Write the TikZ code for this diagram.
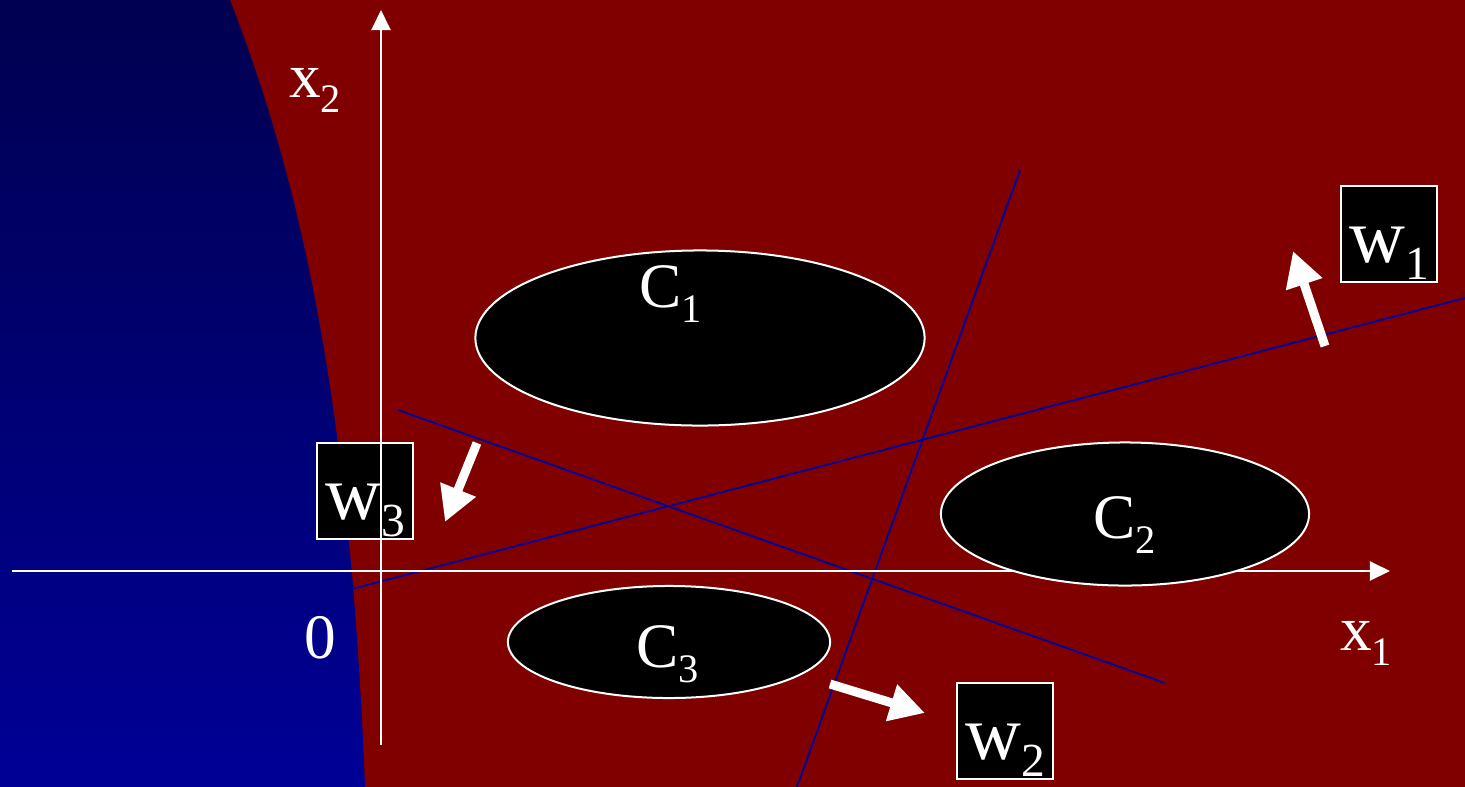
\documentclass[tikz,border=0pt]{standalone}
\usepackage{fontspec}
\setmainfont{Liberation Serif}
\usepackage{xcolor}
\usepackage{tikz}
\usetikzlibrary{arrows.meta, positioning, shapes.geometric}
\definecolor{bgred}{RGB}{128,0,0}
\definecolor{navytop}{RGB}{0,0,80}
\definecolor{navybot}{RGB}{0,0,150}
\definecolor{sepblue}{RGB}{0,0,160}
\newcommand{\lblsub}[2]{#1\raisebox{-4.5pt}{\fontsize{11.5}{12}\selectfont #2}}
\newcommand{\wsub}[1]{w\raisebox{-5pt}{\fontsize{13.5}{14}\selectfont #1}}

\begin{document}
\begin{tikzpicture}[x=0.01cm, y=-0.01cm,
  lbl/.style={text=white, inner sep=0pt, anchor=base, font=\fontsize{18}{20}\selectfont},
  cluster/.style={ellipse, draw=white, fill=black, line width=0.02cm, inner sep=0pt},
  wbox/.style={draw=white, fill=black, line width=0.018cm, minimum size=0.96cm, inner sep=0pt,
    text=white, text height=16pt, text depth=0pt, font=\fontsize{22}{24}\selectfont},
  axis/.style={white, line width=0.02cm, -{Triangle[length=0.2cm, width=0.19cm]}},
  sep/.style={sepblue, line width=0.018cm},
  wvec/.style={white, line width=0.09cm, -{Triangle[length=0.35cm, width=0.36cm]}}]
\useasboundingbox (0,0) rectangle (1465,787);
\fill[bgred] (0,0) rectangle (1465,787);

% decision lines
\coordinate (s1a) at (340,592);
\coordinate (s1b) at (1465,298);
\coordinate (s2a) at (1020,170);
\coordinate (s2b) at (797,787);
\coordinate (s3a) at (398,410);
\coordinate (s3b) at (1165,683);
\draw[sep] (s1a) -- (s1b);
\draw[sep] (s2a) -- (s2b);
\draw[sep] (s3a) -- (s3b);

% region on the left
\shade[top color=navytop, bottom color=navybot]
  (0,0) -- (230,0) .. controls (300,180) and (350,400) .. (365,787) -- (0,787) -- cycle;

\node[wbox] (wthree) at (365,491) {\wsub{3}};

% axes
\coordinate (xstart) at (12,571);
\coordinate (xend) at (1390,571);
\coordinate (ystart) at (381,745);
\coordinate (yend) at (381,10);
\draw[axis] (xstart) -- (xend);
\draw[axis] (ystart) -- (yend);
\node[lbl] (xtwo) at (315,97) {\lblsub{x}{2}};
\node[lbl] (xone) at (1366,650) {\lblsub{x}{1}};
\node[lbl] (orig) at (320,658) {0};

% classes
\node[cluster, minimum width=4.49cm, minimum height=1.75cm] (cone) at (700,338) {};
\node[cluster, minimum width=3.68cm, minimum height=1.43cm] (ctwo) at (1125,514) {};
\node[cluster, minimum width=3.22cm, minimum height=1.12cm] (cthree) at (669,642) {};
\node[lbl] (conelbl) at (671,307) {\lblsub{C}{1}};
\node[lbl] (ctwolbl) at (1125,538) {\lblsub{C}{2}};
\node[lbl] (cthreelbl) at (668,667) {\lblsub{C}{3}};

% weight vectors
\node[wbox] (wone) at (1389,234) {\wsub{1}};
\node[wbox] (wtwo) at (1005,731) {\wsub{2}};
\coordinate (v1a) at (1325,346);
\coordinate (v1b) at (1293,251);
\coordinate (v2a) at (830,684);
\coordinate (v2b) at (925,713);
\coordinate (v3a) at (477,443);
\coordinate (v3b) at (445,522);
\draw[wvec] (v1a) -- (v1b);
\draw[wvec] (v2a) -- (v2b);
\draw[wvec] (v3a) -- (v3b);
\end{tikzpicture}
\end{document}
